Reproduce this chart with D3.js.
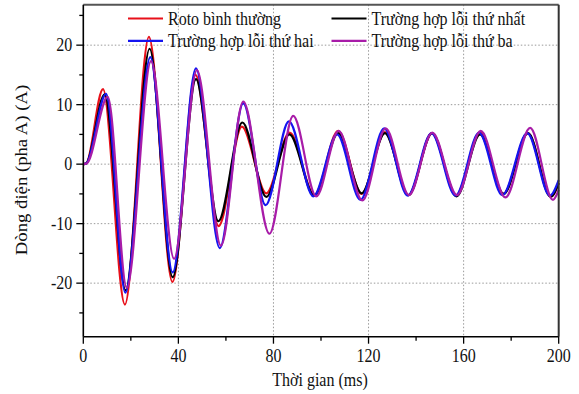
<!DOCTYPE html>
<html>
<head>
<meta charset="utf-8">
<script src="https://cdn.jsdelivr.net/npm/d3@7"></script>
<style>
  body { margin: 0; background: #fff; }
  svg { display: block; font-family: "Liberation Serif", "Times New Roman", serif; }
</style>
</head>
<body>
<div id="chart"></div>
<script>
// extremes (time in ms, current in A)
const redT = [0, 1.2, 8.3, 17.5, 27.6, 37.5, 47.2, 56.9, 66.7, 77.0, 86.8, 97.2, 107.2, 117.1, 126.9, 136.8, 146.7, 156.9, 166.9, 176.8, 187.0, 196.8, 200];
const redV = [0, 0.1, 12.6, -23.6, 21.4, -19.8, 15.0, -10.4, 6.3, -4.9, 5.3, -5.2, 5.6, -5.0, 5.4, -5.2, 5.2, -5.2, 5.4, -5.0, 5.2, -5.4, -3.2];

const blackT = [0, 1.2, 9.0, 17.8, 27.9, 37.6, 47.4, 56.8, 66.9, 77.0, 86.7, 97.2, 107.2, 117.1, 126.9, 136.8, 146.7, 157.0, 166.9, 176.8, 187.1, 196.6, 200];
const blackV = [0, 0.1, 11.75, -21.2, 19.4, -19.0, 14.3, -9.6, 7.0, -5.5, 5.0, -5.3, 5.2, -4.9, 5.2, -5.2, 5.2, -5.4, 5.0, -5.0, 5.2, -5.5, -3.2];

const blueT = [0, 1.2, 9.6, 17.7, 28.2, 37.6, 47.4, 57.4, 67.3, 76.7, 86.5, 96.8, 106.8, 116.6, 126.6, 136.5, 146.5, 156.6, 166.5, 176.3, 186.8, 196.3, 200];
const blueV = [0, 0.1, 11.8, -21.6, 18.0, -18.2, 16.1, -14.1, 10.2, -6.9, 7.2, -5.4, 5.0, -6.0, 6.0, -5.3, 5.2, -5.3, 5.3, -5.2, 5.2, -5.3, -2.7];

const magT = [0, 1.4, 10.3, 18.3, 28.5, 38.2, 47.8, 57.9, 67.3, 78.3, 88.3, 98.0, 107.4, 117.4, 127.2, 137.0, 146.8, 157.2, 167.2, 177.6, 188.0, 197.6, 200];
const magV = [0, 0.1, 11.3, -20.8, 17.3, -15.9, 15.8, -13.7, 10.5, -11.7, 8.1, -5.4, 5.6, -6.1, 6.0, -5.2, 5.3, -5.2, 5.6, -5.6, 6.1, -6.0, -4.3];

const seriesNames = ["Roto bình thường", "Trường hợp lỗi thứ nhất", "Trường hợp lỗi thứ hai", "Trường hợp lỗi thứ ba"];
const seriesColors = ["#e8101a", "#000000", "#1414f0", "#a81ca8"];

const xTicks = [0, 40, 80, 120, 160, 200];
const xMinorTicks = [20, 60, 100, 140, 180];
const yTicks = [-20, -10, 0, 10, 20];
const yMinorTicks = [-25, -15, -5, 5, 15, 25];

const W = 579, H = 394;
const margin = { top: 4.7, right: 20.3, bottom: 57.3, left: 83.3 };
const width = W - margin.left - margin.right;
const height = H - margin.top - margin.bottom;
const stretch = 1.17; // the picture's text is a bit taller than wide

const svg = d3.select("#chart").append("svg")
  .attr("width", W)
  .attr("height", H);

const g = svg.append("g")
  .attr("transform", `translate(${margin.left},${margin.top})`);

const x = d3.scaleLinear().domain([0, 200]).range([0, width]);
const y = d3.scaleLinear().domain([-29, 26.8]).range([height, 0]);

function label(parent, px, py, txt, anchor, rot) {
  parent.append("text")
    .attr("transform", `translate(${px},${py}) scale(1,${stretch})` + (rot ? ` rotate(${rot})` : ""))
    .attr("text-anchor", anchor)
    .attr("font-size", 16)
    .attr("fill", "#111")
    .text(txt);
}

// grid
g.selectAll(".gx").data(xTicks.filter(d => d > 0 && d < 200)).enter().append("line")
  .attr("x1", d => x(d)).attr("x2", d => x(d))
  .attr("y1", 0).attr("y2", height)
  .attr("stroke", "#9a9a9a").attr("stroke-width", 1).attr("stroke-dasharray", "1.5,2");
g.selectAll(".gy").data(yTicks).enter().append("line")
  .attr("x1", 0).attr("x2", width)
  .attr("y1", d => y(d)).attr("y2", d => y(d))
  .attr("stroke", "#9a9a9a").attr("stroke-width", 1).attr("stroke-dasharray", "1.5,2");

// curves
const line = d3.line()
  .x(d => x(d[0]))
  .y(d => y(d[1]))
  .curve(d3.curveMonotoneX);

const series = [
  [redT, redV], [blackT, blackV], [blueT, blueV], [magT, magV]
].map(([t, v]) => t.map((d, i) => [d, v[i]]));

series.forEach((s, i) => {
  g.append("path")
    .datum(s)
    .attr("fill", "none")
    .attr("stroke", seriesColors[i])
    .attr("stroke-width", 2.2)
    .attr("stroke-linejoin", "round")
    .attr("d", line);
});

// frame: top and right in dark gray
g.append("line").attr("x1", 0).attr("x2", width).attr("y1", 0).attr("y2", 0)
  .attr("stroke", "#555").attr("stroke-width", 2);
g.append("line").attr("x1", width).attr("x2", width).attr("y1", 0).attr("y2", height)
  .attr("stroke", "#333").attr("stroke-width", 2);

// axes
const xAxis = g.append("g").attr("transform", `translate(0,${height})`);
xAxis.append("line").attr("x1", 0).attr("x2", width).attr("stroke", "#000").attr("stroke-width", 1.6);
xAxis.selectAll(".mj").data(xTicks).enter().append("line")
  .attr("x1", d => x(d)).attr("x2", d => x(d)).attr("y1", 0).attr("y2", 7)
  .attr("stroke", "#000").attr("stroke-width", 1.3);
xAxis.selectAll(".mn").data(xMinorTicks).enter().append("line")
  .attr("x1", d => x(d)).attr("x2", d => x(d)).attr("y1", 0).attr("y2", 4)
  .attr("stroke", "#000").attr("stroke-width", 1.3);
xTicks.forEach(d => label(xAxis, x(d), 25.5, d, "middle"));

const yAxis = g.append("g");
yAxis.append("line").attr("y1", 0).attr("y2", height).attr("stroke", "#000").attr("stroke-width", 1.6);
yAxis.selectAll(".mj").data(yTicks).enter().append("line")
  .attr("y1", d => y(d)).attr("y2", d => y(d)).attr("x1", 0).attr("x2", -7)
  .attr("stroke", "#000").attr("stroke-width", 1.3);
yAxis.selectAll(".mn").data(yMinorTicks).enter().append("line")
  .attr("y1", d => y(d)).attr("y2", d => y(d)).attr("x1", 0).attr("x2", -4)
  .attr("stroke", "#000").attr("stroke-width", 1.3);
yTicks.forEach(d => label(yAxis, -11, y(d) + 6.2, d < 0 ? "-" + Math.abs(d) : d, "end"));

// axis titles
label(svg, 320, 386, "Thời gian (ms)", "middle");
label(svg, 27, 170, "Dòng điện (pha A) (A)", "middle", -90);

// legend, two columns
const legendPos = [
  { lx: 128, tx: 168, ly: 18.5, ty: 24.8 },
  { lx: 331.5, tx: 371.5, ly: 18.5, ty: 24.8 },
  { lx: 128, tx: 168, ly: 40.8, ty: 47 },
  { lx: 331.5, tx: 371.5, ly: 40.8, ty: 47 }
];
seriesNames.forEach((name, i) => {
  const p = legendPos[i];
  svg.append("line")
    .attr("x1", p.lx).attr("x2", p.lx + 35)
    .attr("y1", p.ly).attr("y2", p.ly)
    .attr("stroke", seriesColors[i]).attr("stroke-width", 2.2);
  label(svg, p.tx, p.ty, name, "start");
});
</script>
</body>
</html>
